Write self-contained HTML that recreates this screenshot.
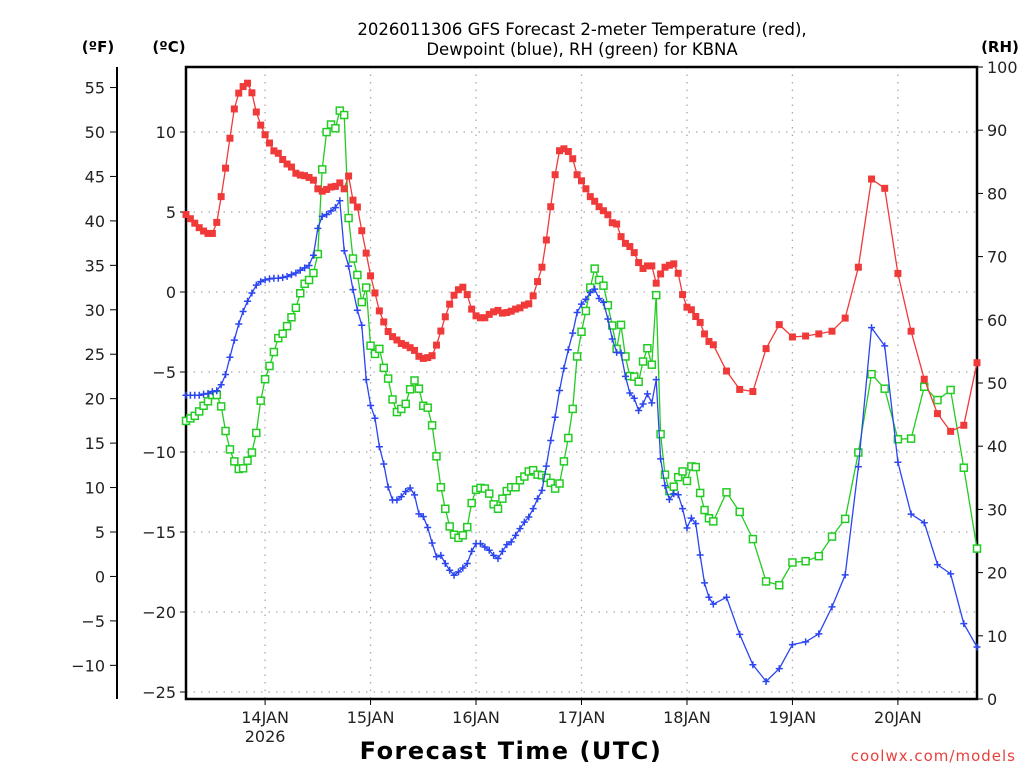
<!DOCTYPE html>
<html><head><meta charset="utf-8"><style>
body{margin:0;background:#fff;width:1024px;height:768px;overflow:hidden}
svg text{font-family:"DejaVu Sans","Liberation Sans",sans-serif;}
</style></head><body>
<svg id="chart" width="1024" height="768" viewBox="0 0 1024 768" xmlns="http://www.w3.org/2000/svg">
<g id="grid"></g>
<g id="axes"></g>
<g id="series"></g>
<text x="582" y="35" font-size="16.5" text-anchor="middle">2026011306 GFS Forecast 2-meter Temperature (red),</text>
<text x="582" y="55" font-size="16.5" text-anchor="middle">Dewpoint (blue), RH (green) for KBNA</text>
<text x="98" y="52" font-size="15" font-weight="bold" text-anchor="middle">(ºF)</text>
<text x="169" y="52" font-size="15" font-weight="bold" text-anchor="middle">(ºC)</text>
<text x="1000" y="52" font-size="15" font-weight="bold" text-anchor="middle">(RH)</text>
<text x="511" y="759" font-size="24" font-weight="bold" letter-spacing="1.5" text-anchor="middle">Forecast Time (UTC)</text>
<text x="1016" y="761" font-size="15" fill="#e8413c" text-anchor="end" letter-spacing="1">coolwx.com/models</text>
</svg>
<script>
const hours=[0,1,2,3,4,5,6,7,8,9,10,11,12,13,14,15,16,17,18,19,20,21,22,23,24,25,26,27,28,29,30,31,32,33,34,35,36,37,38,39,40,41,42,43,44,45,46,47,48,49,50,51,52,53,54,55,56,57,58,59,60,61,62,63,64,65,66,67,68,69,70,71,72,73,74,75,76,77,78,79,80,81,82,83,84,85,86,87,88,89,90,91,92,93,94,95,96,97,98,99,100,101,102,103,104,105,106,107,108,109,110,111,112,113,114,115,116,117,118,119,120,123,126,129,132,135,138,141,144,147,150,153,156,159,162,165,168,171,174,177,180];
const tempC=[4.84,4.58,4.30,4.02,3.81,3.66,3.66,4.35,5.96,7.74,9.61,11.44,12.43,12.84,13.05,12.45,11.25,10.43,9.83,9.31,8.82,8.67,8.28,8.0,7.81,7.42,7.31,7.27,7.16,6.99,6.45,6.30,6.41,6.56,6.60,6.82,6.45,7.25,5.74,5.31,3.83,2.43,1.01,-0.06,-1.18,-1.87,-2.47,-2.79,-3.0,-3.22,-3.33,-3.48,-3.65,-4.02,-4.15,-4.1,
-3.98,-3.32,-2.44,-1.55,-0.76,-0.20,0.14,0.30,-0.16,-1.07,-1.49,-1.61,-1.61,-1.40,-1.24,-1.15,-1.32,-1.28,-1.20,-1.07,-0.99,-0.82,-0.74,-0.24,0.65,1.55,3.25,5.33,7.33,8.83,8.95,8.78,8.33,7.33,6.95,6.45,5.96,5.67,5.33,5.08,4.83,4.33,4.25,3.46,3.04,2.84,2.46,1.84,1.47,1.63,1.63,0.55,1.13,1.55,1.67,1.76,1.17,-0.16,-0.95,-1.11,-1.53,-1.90,
-2.62,-3.09,-3.30,
-4.94,-6.09,-6.22,-3.54,-2.04,-2.81,-2.75,-2.62,-2.45,-1.63,1.55,7.06,6.48,1.16,-2.45,-5.45,-7.60,-8.71,-8.33,-4.42];
const dewC=[-6.45,-6.45,-6.45,-6.45,-6.38,-6.34,-6.23,-6.17,-5.80,-5.16,-4.08,-3.01,-2.0,-1.22,-0.58,-0.06,0.43,0.65,0.76,0.82,0.86,0.86,0.91,0.97,1.08,1.19,1.36,1.51,1.66,2.30,3.98,4.73,4.84,5.06,5.27,5.70,2.58,1.62,0.15,-1.14,-2.08,-5.48,-7.09,-7.89,-9.67,-10.75,-12.19,-13.0,-13.0,-12.79,-12.47,-12.25,-12.68,-13.87,-14.04,-14.72,-15.69,-16.55,
-16.46,-16.97,-17.39,-17.70,-17.49,-17.25,-16.97,-16.21,-15.73,-15.73,-15.94,-16.14,-16.46,-16.66,-16.21,-15.79,-15.62,-15.21,-14.79,-14.38,-14.06,-13.54,-12.92,-12.40,-10.88,-9.28,-7.83,-6.16,-4.77,-3.61,-2.57,-1.28,-0.76,-0.45,-0.03,0.18,-0.41,-0.65,-1.69,-2.94,-3.77,-3.81,-5.27,-6.31,-6.64,-7.41,-7.0,-6.37,-6.93,-5.48,-10.43,-12.10,-12.97,-12.61,-12.67,-13.54,-14.75,-14.13,-14.48,
-16.44,-18.18,-19.08,-19.51,
-19.08,-21.4,-23.3,-24.34,-23.54,-22.04,-21.87,-21.37,-19.68,-17.68,-10.92,-2.23,-3.37,-10.64,-13.88,-14.42,-17.04,-17.62,-20.73,-22.19];
const rhPct=[44.0,44.4,44.8,45.5,46.4,47.1,48.1,48.1,46.3,42.4,39.5,37.6,36.4,36.5,37.7,39.0,42.1,47.2,50.6,52.7,54.9,57.1,57.8,59.0,60.4,61.9,64.2,65.7,66.3,67.4,70.4,83.8,89.7,90.9,90.3,93.1,92.4,76.1,69.7,67.1,62.8,65.1,55.9,54.6,55.4,52.4,50.7,47.4,45.4,45.9,46.7,49.0,50.4,49.1,46.4,46.1,43.3,
38.4,33.5,30.1,27.3,26.0,25.5,25.9,27.2,31.0,33.1,33.4,33.3,32.5,30.8,30.1,31.7,32.9,33.5,33.5,34.6,35.2,36.0,36.2,35.5,35.4,35.0,34.2,33.3,34.1,37.6,41.3,45.9,54.2,58.1,61.4,65.1,68.1,66.3,65.4,62.3,59.1,55.4,59.2,54.2,51.1,51.0,50.2,53.4,55.5,52.9,63.9,41.9,35.5,32.9,33.6,35.1,36.0,34.5,36.8,36.7,
32.6,29.9,28.6,28.1,
32.7,29.6,25.3,18.6,18.0,21.6,21.8,22.6,25.7,28.5,39.0,51.4,49.1,41.1,41.2,49.4,47.3,48.9,36.6,23.8];
const dayLabels=["14JAN","15JAN","16JAN","17JAN","18JAN","19JAN","20JAN"];
const dayHours=[18,42,66,90,114,138,162];
const cTicks=[10,5,0,-5,-10,-15,-20,-25];
const fTicks=[55,50,45,40,35,30,25,20,15,10,5,0,-5,-10];
const rhTicks=[100,90,80,70,60,50,40,30,20,10,0];

const L=186,R=977,T=67,B=699,HMAX=180;
const xS=h=>L+(R-L)*h/HMAX;
const yC=c=>292-16*c;
const yF=f=>yC((f-32)*5/9);
const yRH=r=>B-(B-T)*r/100;
const NS="http://www.w3.org/2000/svg";
function mk(tag,parent,attrs){const e=document.createElementNS(NS,tag);for(const k in attrs)e.setAttribute(k,attrs[k]);parent.appendChild(e);return e;}
const grid=document.getElementById('grid'),axes=document.getElementById('axes'),series=document.getElementById('series');

cTicks.forEach(c=>{
  const g=mk('line',grid,{x1:L,x2:R,y1:yC(c),y2:yC(c),stroke:'#aaa','stroke-width':1.3,'stroke-dasharray':'1.5 6'});
  
  
  const t=mk('line',axes,{x1:L-6,x2:L,y1:yC(c),y2:yC(c),stroke:'#000','stroke-width':1});
  
  
  const tx=mk('text',axes,{x:L-10,y:yC(c)+6,'font-size':16,'text-anchor':'end',fill:'#222'});
  tx.textContent=(c<0?'\u2212'+(-c):c);
  
  
});
dayHours.forEach((h,i)=>{
  const g=mk('line',grid,{x1:xS(h),x2:xS(h),y1:T,y2:B,stroke:'#aaa','stroke-width':1.3,'stroke-dasharray':'1.5 6'});
  
  
  const t=mk('line',axes,{x1:xS(h),x2:xS(h),y1:B,y2:B+6,stroke:'#000','stroke-width':1});
  
  
  const tx=mk('text',axes,{x:xS(h),y:B+24,'font-size':16,'text-anchor':'middle',fill:'#222'});
  tx.textContent=dayLabels[i];
  
  
});
const yr=mk('text',axes,{x:xS(dayHours[0]),y:B+43,'font-size':16,'text-anchor':'middle',fill:'#222'});
yr.textContent='2026';



const fa=mk('line',axes,{x1:117,x2:117,y1:T,y2:B,stroke:'#000','stroke-width':2});


fTicks.forEach(f=>{
  const t=mk('line',axes,{x1:110,x2:117,y1:yF(f),y2:yF(f),stroke:'#000','stroke-width':1});
  
  
  const tx=mk('text',axes,{x:105,y:yF(f)+6,'font-size':16,'text-anchor':'end',fill:'#222'});
  tx.textContent=(f<0?'\u2212'+(-f):f);
  
  
});
rhTicks.forEach(r=>{
  const t=mk('line',axes,{x1:R,x2:R+6,y1:yRH(r),y2:yRH(r),stroke:'#000','stroke-width':1});
  
  
  const tx=mk('text',axes,{x:R+10,y:yRH(r)+6,'font-size':16,'text-anchor':'start',fill:'#222'});
  tx.textContent=r;
  
  
});
const frame=mk('rect',axes,{x:L,y:T,width:R-L,height:B-T,fill:'none',stroke:'#000','stroke-width':2.5});



function drawSeries(vals,yf,color,name,marker){
  const g=mk('g',series,{});
  
  
  const pts=hours.map((h,i)=>xS(h).toFixed(1)+','+yf(vals[i]).toFixed(1)).join(' ');
  const pl=mk('polyline',g,{points:pts,fill:'none',stroke:color,'stroke-width':1.3});
  
  
  hours.forEach((h,i)=>{
    const x=xS(h),y=yf(vals[i]);let m;
    if(marker==='fill'){m=mk('rect',g,{x:x-3.5,y:y-3.5,width:7,height:7,fill:color});}
    else if(marker==='open'){m=mk('rect',g,{x:x-3.5,y:y-3.5,width:7,height:7,fill:'#fff',stroke:color,'stroke-width':1.5});}
    else{m=mk('path',g,{d:`M${x-3.5},${y}H${x+3.5}M${x},${y-3.5}V${y+3.5}`,stroke:color,'stroke-width':1.5});}
    
    
  });
}
drawSeries(rhPct,yRH,'#22cc22','rh-series','open');
drawSeries(dewC,yC,'#2b45f0','dewpoint-series','plus');
drawSeries(tempC,yC,'#f03a3a','temperature-series','fill');
</script>
</body></html>
